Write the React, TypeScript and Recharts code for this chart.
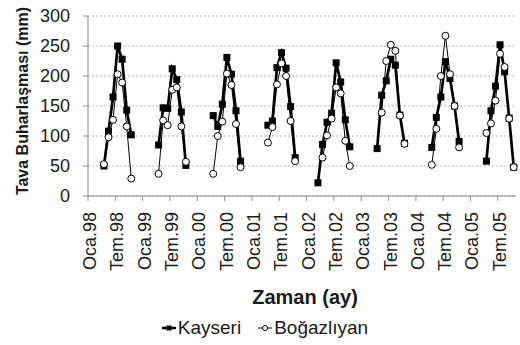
import { LineChart, Line, XAxis, YAxis, CartesianGrid, Legend } from 'recharts';

// axis labels, one every 6 months
const tickLabels = [
  'Oca.98', 'Tem.98', 'Oca.99', 'Tem.99', 'Oca.00', 'Tem.00', 'Oca.01', 'Tem.01',
  'Oca.02', 'Tem.02', 'Oca.03', 'Tem.03', 'Oca.04', 'Tem.04', 'Oca.05', 'Tem.05',
];
const yTicks = [0, 50, 100, 150, 200, 250, 300];
const monthCount = 94; // Oca.98 .. Eki.05

// Kayseri: first month of each season (0 = Ocak), then monthly pan evaporation (mm)
const kayseriStart = [3, 3, 3, 3, 2, 3, 3, 3];
const kayseri98 = [50, 108, 165, 250, 228, 143, 102];
const kayseri99 = [85, 147, 146, 212, 194, 140, 51];
const kayseri00 = [134, 116, 153, 231, 203, 142, 58];
const kayseri01 = [118, 125, 214, 239, 213, 149, 64];
const kayseri02 = [22, 86, 123, 138, 222, 190, 127, 82];
const kayseri03 = [79, 168, 192, 228, 218, 135, 88];
const kayseri04 = [81, 131, 165, 224, 196, 150, 91];
const kayseri05 = [58, 142, 183, 252, 207, 130, 48];

// Boğazlıyan
const bogazliyanStart = [3, 3, 3, 3, 3, 4, 3, 3];
const bogazliyan98 = [53, 98, 127, 203, 189, 116, 29];
const bogazliyan99 = [37, 126, 118, 177, 181, 116, 57];
const bogazliyan00 = [37, 100, 124, 204, 185, 120, 48];
const bogazliyan01 = [89, 115, 186, 221, 200, 125, 58];
const bogazliyan02 = [64, 101, 129, 181, 171, 92, 50];
const bogazliyan03 = [139, 225, 252, 242, 134, 87];
const bogazliyan04 = [52, 112, 200, 267, 203, 150, 81];
const bogazliyan05 = [105, 121, 159, 237, 215, 129, 48];

const kayseriSeasons = [kayseri98, kayseri99, kayseri00, kayseri01, kayseri02, kayseri03, kayseri04, kayseri05];
const bogazliyanSeasons = [bogazliyan98, bogazliyan99, bogazliyan00, bogazliyan01, bogazliyan02, bogazliyan03, bogazliyan04, bogazliyan05];

const seriesOrder = ['kayseri', 'bogazliyan'];

type Row = { x: number; kayseri: number | null; bogazliyan: number | null };

function buildRows(): Row[] {
  const rows: Row[] = [];
  for (let i = 0; i < monthCount; i++) rows.push({ x: i + 0.5, kayseri: null, bogazliyan: null });
  const fill = (key: 'kayseri' | 'bogazliyan', starts: number[], seasons: number[][]) =>
    seasons.forEach((vals, y) => vals.forEach((v, k) => { rows[y * 12 + starts[y] + k][key] = v; }));
  fill('kayseri', kayseriStart, kayseriSeasons);
  fill('bogazliyan', bogazliyanStart, bogazliyanSeasons);
  return rows;
}

const data = buildRows();
const xTicks = tickLabels.map((_, i) => i * 6);

const FONT = '"Liberation Sans", Arial, sans-serif';

function SquareDot(props: any) {
  const { cx, cy, value } = props;
  if (value == null || cx == null || cy == null || isNaN(cy)) return <g />;
  return <rect x={cx - 3.5} y={cy - 3.5} width={7} height={7} fill="#000" />;
}

function CircleDot(props: any) {
  const { cx, cy, value } = props;
  if (value == null || cx == null || cy == null || isNaN(cy)) return <g />;
  return <circle cx={cx} cy={cy} r={3.5} fill="#fff" stroke="#000" strokeWidth={1} />;
}

function MonthTick(props: any) {
  const { x, y, payload } = props;
  const tx = x + 2;
  return (
    <text x={tx} y={y} transform={`rotate(-90 ${tx} ${y})`} textAnchor="end" dominantBaseline="central"
      fontSize={18} fill="#1a1a1a" fontFamily={FONT}>
      {tickLabels[Math.round(payload.value / 6)]}
    </text>
  );
}

function XTitle(props: any) {
  const vb = props.viewBox || { x: 88, width: 428 };
  return (
    <text x={vb.x + vb.width / 2 + 3} y={297} textAnchor="middle" dominantBaseline="central"
      fontSize={20} fontWeight="bold" fill="#1a1a1a" fontFamily={FONT}>
      Zaman (ay)
    </text>
  );
}

function YTitle() {
  return (
    <text x={22} y={101} transform="rotate(-90 22 101)" textAnchor="middle" dominantBaseline="central"
      fontSize={16} fontWeight="bold" fill="#1a1a1a" fontFamily={FONT}>
      Tava Buharlaşması (mm)
    </text>
  );
}

function LegendBox(props: any) {
  const items = [...(props.payload || [])].sort(
    (a: any, b: any) => seriesOrder.indexOf(a.dataKey) - seriesOrder.indexOf(b.dataKey));
  return (
    <div style={{ display: 'flex', justifyContent: 'center', alignItems: 'center', gap: 17, fontSize: 19, fontFamily: FONT, color: '#1a1a1a', paddingLeft: 10, paddingTop: 3 }}>
      {items.map((it: any) => (
        <span key={it.dataKey} style={{ display: 'flex', alignItems: 'center' }}>
          <svg width={14} height={12} style={{ marginRight: 2 }}>
            {it.dataKey === 'kayseri' ? (
              <>
                <line x1={0} y1={6} x2={14} y2={6} stroke="#000" strokeWidth={2.5} />
                <rect x={4.5} y={3.5} width={5} height={5} fill="#000" />
              </>
            ) : (
              <>
                <line x1={0} y1={6} x2={14} y2={6} stroke="#000" strokeWidth={1} />
                <circle cx={7} cy={6} r={2.5} fill="#fff" stroke="#000" strokeWidth={1} />
              </>
            )}
          </svg>
          {it.value}
        </span>
      ))}
    </div>
  );
}

export default function App() {
  return (
    <div style={{ position: 'absolute', left: 0, top: 0, width: 520, height: 345, background: '#fff' }}>
      <LineChart width={520} height={345} data={data} margin={{ top: 16, right: 4, left: 28, bottom: 11 }}>
        <CartesianGrid vertical={false} stroke="#b4b4b4" strokeDasharray="2 2" />
        <XAxis dataKey="x" type="number" domain={[0, monthCount]} ticks={xTicks} interval={0}
          height={110} tickSize={5} tickMargin={11} stroke="#8c8c8c"
          tick={<MonthTick />} label={{ content: XTitle }} />
        <YAxis domain={[0, 300]} ticks={yTicks} interval={0} width={60} tickSize={5} tickMargin={13}
          stroke="#8c8c8c" tick={{ fontSize: 18, fill: '#1a1a1a', fontFamily: FONT }}
          label={{ content: YTitle }} />
        <Legend verticalAlign="bottom" height={28} content={<LegendBox />}
          wrapperStyle={{ top: 314, left: 0, width: 520, height: 28 }} />
        <Line dataKey="kayseri" name="Kayseri" stroke="#000" strokeWidth={2.7}
          dot={<SquareDot />} activeDot={false} isAnimationActive={false} />
        <Line dataKey="bogazliyan" name="Boğazlıyan" stroke="#000" strokeWidth={1}
          dot={<CircleDot />} activeDot={false} isAnimationActive={false} />
      </LineChart>
    </div>
  );
}
